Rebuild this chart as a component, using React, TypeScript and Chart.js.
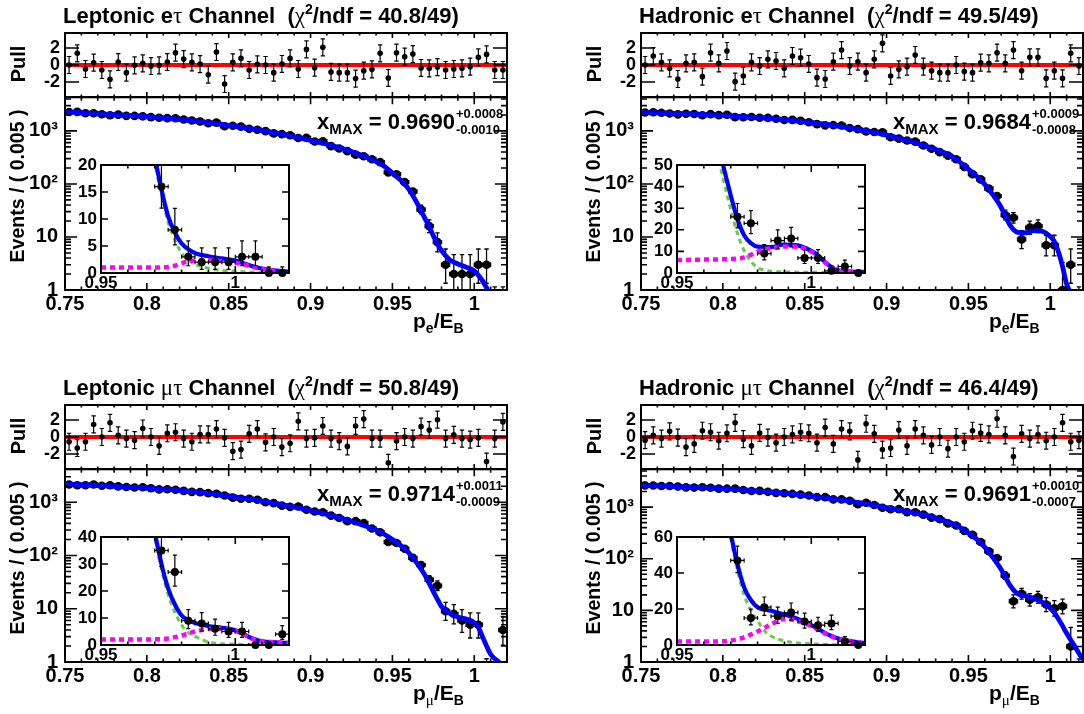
import React, { useEffect, useRef } from "react";
import { Chart, registerables } from "chart.js";

Chart.register(...registerables);

const FONT = '"Liberation Sans", Arial, Helvetica, sans-serif';
const GREEK = '"Liberation Serif", "DejaVu Serif", "Times New Roman", serif';
const BLUE = "#0000ff";
const RED = "#ff0000";
const MAGENTA = "#ff00ff";
const GREEN = "#66cc44";

// ---------- x grids ----------
const BIN_CENTERS = [
  0.7525, 0.7575, 0.7625, 0.7675, 0.7725, 0.7775, 0.7825, 0.7875, 0.7925, 0.7975,
  0.8025, 0.8075, 0.8125, 0.8175, 0.8225, 0.8275, 0.8325, 0.8375, 0.8425, 0.8475,
  0.8525, 0.8575, 0.8625, 0.8675, 0.8725, 0.8775, 0.8825, 0.8875, 0.8925, 0.8975,
  0.9025, 0.9075, 0.9125, 0.9175, 0.9225, 0.9275, 0.9325, 0.9375, 0.9425, 0.9475,
  0.9525, 0.9575, 0.9625, 0.9675, 0.9725, 0.9775, 0.9825, 0.9875, 0.9925, 0.9975,
  1.0025, 1.0075, 1.0125, 1.0175,
];
const FIT_X = [
  0.75, 0.76, 0.77, 0.78, 0.79, 0.8, 0.81, 0.82, 0.83, 0.84,
  0.85, 0.86, 0.87, 0.88, 0.89, 0.9, 0.91, 0.92, 0.93, 0.94,
  0.945, 0.95, 0.955, 0.96, 0.965, 0.97, 0.9725, 0.975, 0.9775, 0.98,
  0.985, 0.99, 0.995, 1.0, 1.0025, 1.005, 1.0075, 1.01, 1.015, 1.02,
];
const COMP_X = [
  0.95, 0.955, 0.96, 0.965, 0.97, 0.9725, 0.975, 0.9775, 0.98, 0.9825,
  0.985, 0.99, 0.995, 1.0, 1.0025, 1.005, 1.0075, 1.01, 1.015, 1.02,
];
const MAIN_X_TICKS = [0.75, 0.8, 0.85, 0.9, 0.95, 1.0];
const INSET_X_TICKS = [0.95, 1.0];
const PULL_TICKS = [-2, 0, 2];
const LOG_TICKS = [1, 10, 100, 1000];
const LOG_LABELS: Record<number, string> = { 1: "1", 10: "10", 100: "10\u00b2", 1000: "10\u00b3" };

// ---------- Leptonic e tau ----------
const LEP_ETAU_COUNTS = [
  2268, 2286, 2156, 2145, 2061, 1974, 2024, 1923, 1916, 1882,
  1820, 1773, 1739, 1730, 1645, 1572, 1503, 1393, 1430, 1226,
  1253, 1205, 1094, 1054, 989, 899, 869, 827, 734, 740,
  631, 636, 516, 465, 416, 357, 332, 292, 258, 165,
  152, 108, 72, 33, 16, 8, 3, 2, 2, 2,
  3, 3, 0, 0,
];
const LEP_ETAU_PULLS = [
  0.0, 1.37, -0.47, 0.27, -0.59, -1.69, 0.35, -0.9, -0.04, 0.2,
  -0.12, -0.04, 0.35, 1.45, 0.7, 0.31, 0.1, -1.14, 1.53, -2.24,
  0.31, 0.78, -0.59, 0.08, 0.0, -0.9, 0.12, 0.78, -0.47, 1.84,
  -0.31, 2.08, -0.82, -0.9, -0.9, -1.6, -0.67, -0.51, 1.37, -1.53,
  1.45, 0.98, 1.29, -0.35, -0.39, -0.24, -0.59, -0.47, -0.39, -0.2,
  0.9, 1.25, -0.59, -0.59,
];
const LEP_ETAU_FIT = [
  2290, 2200, 2110, 2030, 1940, 1850, 1750, 1645, 1530, 1405,
  1275, 1145, 1020, 895, 775, 665, 560, 460, 360, 265,
  215, 160, 118, 80, 44, 22, 15.5, 10.5, 7.5, 5.5,
  3.7, 3.1, 2.7, 2.3, 1.9, 1.5, 1.1, 0.8, 0.45, 0.25,
];
const LEP_ETAU_SIG = [1.0, 1.0, 1.0, 1.0, 1.0, 1.05, 1.1, 1.35, 1.8, 2.15, 2.3, 2.35, 2.2, 1.9, 1.65, 1.35, 1.0, 0.7, 0.35, 0.2];
const LEP_ETAU_BKG = [159, 117, 79, 43, 21, 14.5, 9.4, 6.1, 3.7, 2.4, 1.6, 0.9, 0.5, 0.35, 0.25, 0.18, 0.12, 0.08, 0.04, 0.02];

// ---------- Hadronic e tau ----------
const HAD_ETAU_COUNTS = [
  2224, 2251, 2192, 2135, 2050, 2108, 2084, 1978, 2074, 1985,
  2014, 1818, 1808, 1834, 1771, 1757, 1698, 1610, 1613, 1548,
  1460, 1340, 1273, 1282, 1262, 1130, 1079, 971, 951, 939,
  760, 715, 658, 627, 530, 460, 398, 342, 292, 210,
  153, 122, 82, 59, 26, 23, 9, 15, 16, 7,
  7, 1, 3, 0,
];
const HAD_ETAU_PULLS = [
  0, 1.06, 0.31, -0.39, -1.65, 0.2, 0.31, -1.37, 1.45, 0.2,
  1.65, -1.96, -1.29, 0.31, -0.12, 0.67, 0.47, -0.39, 1.06, 0.86,
  0.12, -1.49, -1.65, 0.39, 1.76, -0.12, 0.39, -0.9, 0.67, 2.55,
  -1.29, -0.51, -0.2, 1.18, -0.2, -0.67, -0.9, -0.9, 0, -0.78,
  -0.9, 0.27, 0.2, 1.45, 0.2, 1.76, -0.67, 0.9, 0.9, -1.57,
  -0.67, -1.57, 1.37, -0.12,
];
const HAD_ETAU_FIT = [
  2235, 2190, 2140, 2085, 2025, 1960, 1885, 1800, 1705, 1600,
  1485, 1365, 1235, 1100, 965, 830, 695, 565, 445, 330,
  255, 190, 140, 98, 62, 36, 25, 17.5, 13.8, 12.2,
  12.0, 13.2, 12.8, 10.2, 8.2, 5.2, 2.8, 1.3, 0.7, 0.5,
];
const HAD_ETAU_SIG = [6.0, 6.1, 6.2, 6.3, 6.5, 6.7, 7.2, 8.4, 9.8, 11.0, 11.4, 12.3, 12.1, 9.8, 7.8, 5.0, 2.6, 1.1, 0.5, 0.3];
const HAD_ETAU_BKG = [184, 134, 92, 56, 29.5, 18.3, 10.3, 5.4, 2.4, 1.4, 0.8, 0.5, 0.4, 0.35, 0.3, 0.25, 0.2, 0.2, 0.2, 0.2];

// ---------- Leptonic mu tau ----------
const LEP_MUTAU_COUNTS = [
  2157, 2088, 2087, 2145, 2043, 2083, 1981, 1930, 1887, 1911,
  1828, 1739, 1756, 1716, 1635, 1566, 1545, 1481, 1445, 1339,
  1218, 1162, 1161, 1114, 1000, 960, 864, 819, 832, 723,
  670, 650, 560, 504, 441, 442, 408, 320, 272, 179,
  172, 134, 90, 66, 35, 27, 9, 8, 6, 5,
  5, 0, 0, 4,
];
const LEP_MUTAU_PULLS = [
  -0.56, -1.3, -0.56, 1.48, 0, 1.67, 0.19, -0.19, -0.37, 1.0,
  0, -1.04, 0.44, 0.56, -0.19, -0.56, 0.3, 0.3, 0.93, -0.11,
  -1.67, -1.48, 0.37, 0.93, -0.63, 0, -1.19, -0.74, 1.85, -0.19,
  -0.11, 1.3, -0.19, -0.48, -1.11, 1.3, 2.11, -0.19, -0.19, -3.04,
  -0.48, 0, -0.19, 1.22, 0.81, 2.04, -0.19, 0.26, -0.19, -0.3,
  -0.11, -2.89, -0.19, 1.78,
];
const LEP_MUTAU_FIT = [
  2200, 2130, 2060, 1990, 1920, 1850, 1760, 1670, 1560, 1440,
  1310, 1180, 1050, 930, 810, 700, 590, 490, 390, 300,
  250, 200, 155, 112, 72, 42, 30, 21, 15, 11,
  8.2, 7.0, 6.4, 5.5, 4.5, 3.0, 2.0, 1.4, 1.0, 0.75,
];
const LEP_MUTAU_SIG = [2.0, 2.0, 2.0, 2.05, 2.1, 2.2, 2.4, 2.9, 3.5, 4.3, 5.0, 5.9, 6.0, 5.2, 4.3, 2.9, 1.9, 1.35, 0.95, 0.72];
const LEP_MUTAU_BKG = [198, 153, 110, 70, 40, 28, 18.6, 12.1, 7.5, 4.5, 3.2, 1.1, 0.45, 0.3, 0.2, 0.1, 0.1, 0.05, 0.05, 0.03];

// ---------- Hadronic mu tau ----------
const HAD_MUTAU_COUNTS = [
  2616, 2615, 2563, 2572, 2499, 2409, 2390, 2426, 2375, 2282,
  2276, 2283, 2141, 2050, 2062, 1977, 1889, 1853, 1801, 1746,
  1673, 1558, 1558, 1414, 1409, 1329, 1139, 1214, 1101, 969,
  910, 914, 800, 796, 715, 626, 585, 484, 440, 347,
  290, 211, 140, 103, 47, 15, 21, 16, 18, 13,
  11, 12, 2, 0,
];
const HAD_MUTAU_PULLS = [
  -0.37, 0.19, -0.19, 0.67, -0.07, -1.19, -0.81, 0.74, 0.56, -0.44,
  0.44, 1.67, -0.26, -1.04, 0.48, -0.07, -0.67, 0, 0.3, 0.56,
  0.44, -0.67, 1.11, -0.81, 0.93, 0.67, -2.7, 1.56, 0.37, -1.48,
  -1.3, 0.81, -1.04, 0.93, 0.19, -0.93, 0, -1.37, 0, -0.56,
  0.74, 0.48, 0.3, 2.15, 0.19, -2.3, 0.37, -0.19, 0.3, -0.44,
  0, 1.67, -0.56, -0.37,
];
const HAD_MUTAU_FIT = [
  2650, 2590, 2520, 2450, 2370, 2280, 2180, 2070, 1950, 1820,
  1690, 1550, 1410, 1270, 1125, 980, 860, 740, 620, 480,
  400, 315, 240, 168, 105, 62, 45, 32, 25, 21,
  19, 17, 14.5, 11, 9, 6.8, 5, 3.6, 2.0, 1.1,
];
const HAD_MUTAU_SIG = [1.9, 1.9, 1.95, 2.0, 2.5, 3.2, 4.2, 5.8, 7.5, 9.5, 11.5, 14.5, 13.4, 10.5, 8.5, 6.5, 4.8, 3.5, 2.0, 1.0];
const HAD_MUTAU_BKG = [313, 238, 166, 103, 59.5, 41.8, 27.8, 19.2, 13.5, 8.0, 5.0, 2.3, 1.1, 0.6, 0.5, 0.3, 0.2, 0.1, 0.05, 0.05];

type PanelDef = {
  col: number;
  row: number;
  counts: number[];
  pulls: number[];
  fit: number[];
  sig: number[];
  bkg: number[];
  yMax: number;
  insetMax: number;
  insetTicks: number[];
  mode: string;
  lep: string;
  chi: string;
  xmax: string;
  up: string;
  dn: string;
};

const PANELS: PanelDef[] = [
  { col: 0, row: 0, counts: LEP_ETAU_COUNTS, pulls: LEP_ETAU_PULLS, fit: LEP_ETAU_FIT, sig: LEP_ETAU_SIG, bkg: LEP_ETAU_BKG,
    yMax: 4300, insetMax: 20, insetTicks: [0, 5, 10, 15, 20], mode: "Leptonic", lep: "e", chi: "40.8/49", xmax: "0.9690", up: "+0.0008", dn: "-0.0010" },
  { col: 1, row: 0, counts: HAD_ETAU_COUNTS, pulls: HAD_ETAU_PULLS, fit: HAD_ETAU_FIT, sig: HAD_ETAU_SIG, bkg: HAD_ETAU_BKG,
    yMax: 4300, insetMax: 50, insetTicks: [0, 10, 20, 30, 40, 50], mode: "Hadronic", lep: "e", chi: "49.5/49", xmax: "0.9684", up: "+0.0009", dn: "-0.0008" },
  { col: 0, row: 1, counts: LEP_MUTAU_COUNTS, pulls: LEP_MUTAU_PULLS, fit: LEP_MUTAU_FIT, sig: LEP_MUTAU_SIG, bkg: LEP_MUTAU_BKG,
    yMax: 4150, insetMax: 40, insetTicks: [0, 10, 20, 30, 40], mode: "Leptonic", lep: "mu", chi: "50.8/49", xmax: "0.9714", up: "+0.0011", dn: "-0.0009" },
  { col: 1, row: 1, counts: HAD_MUTAU_COUNTS, pulls: HAD_MUTAU_PULLS, fit: HAD_MUTAU_FIT, sig: HAD_MUTAU_SIG, bkg: HAD_MUTAU_BKG,
    yMax: 5400, insetMax: 60, insetTicks: [0, 20, 40, 60], mode: "Hadronic", lep: "mu", chi: "46.4/49", xmax: "0.9691", up: "+0.0010", dn: "-0.0007" },
];

// ---------- layout ----------
const COL_DX = 576;
const ROW_DY = 372;
const FRAME_L = 65, FRAME_R = 507;
const PULL_T = 33, PULL_B = 97;
const MAIN_T = 97, MAIN_B = 290;
const INSET_L = 101, INSET_R = 289, INSET_T = 165, INSET_B = 273;

// ---------- helpers ----------
function poissonBand(n: number): [number, number] {
  if (n <= 0) return [0, 1.15];
  return [n - Math.sqrt(n - 0.25), n + Math.sqrt(n + 0.75) + 1];
}

function logMinor(yMax: number) {
  const r: number[] = [];
  for (let d = 1; d <= 1000; d *= 10) for (let k = 2; k <= 9; k++) if (k * d < yMax) r.push(k * d);
  return r;
}
function hundredths(from: number, to: number, skipEvery: number) {
  const r: number[] = [];
  for (let i = from; i <= to; i++) if (i % skipEvery !== 0) r.push(i / 100);
  return r;
}

const fontSpec = (size: number) => ({ family: FONT, size, weight: "bold" as const, lineHeight: 1.2 });

function fixed(size: number, horizontal: boolean) {
  return (s: any) => {
    if (horizontal) s.height = size;
    else s.width = size;
    s.paddingTop = 0;
    s.paddingBottom = 0;
    s.paddingLeft = 0;
    s.paddingRight = 0;
  };
}
const setTicks = (vals: number[]) => (s: any) => {
  s.ticks = vals.map((v) => ({ value: v }));
};

const errorBarPlugin = {
  id: "rootErrorBars",
  afterDatasetDraw(chart: any, args: any) {
    const ds = chart.data.datasets[args.index];
    const bars = ds && ds.errBars;
    if (!bars) return;
    const { ctx, chartArea: a } = chart;
    const xs = chart.scales.x;
    const ys = chart.scales.y;
    const isLog = ys.type === "logarithmic";
    const cap = ds.errCap ?? 2;
    const clampV = (v: number) => (isLog ? Math.max(v, ys.min * 0.01) : v);
    ctx.save();
    ctx.beginPath();
    ctx.rect(a.left, a.top, a.right - a.left, a.bottom - a.top);
    ctx.clip();
    ctx.strokeStyle = "#000";
    ctx.lineWidth = ds.errWidth ?? 1;
    ctx.beginPath();
    for (const b of bars) {
      const px = xs.getPixelForValue(b.x);
      const yl = ys.getPixelForValue(clampV(b.lo));
      const yh = ys.getPixelForValue(clampV(b.hi));
      ctx.moveTo(px, yl);
      ctx.lineTo(px, yh);
      ctx.moveTo(px - cap, yh);
      ctx.lineTo(px + cap, yh);
      ctx.moveTo(px - cap, yl);
      ctx.lineTo(px + cap, yl);
      if (b.dx) {
        const py = ys.getPixelForValue(clampV(b.y));
        const xl = xs.getPixelForValue(b.x - b.dx);
        const xr = xs.getPixelForValue(b.x + b.dx);
        ctx.moveTo(xl, py);
        ctx.lineTo(xr, py);
        ctx.moveTo(xl, py - cap);
        ctx.lineTo(xl, py + cap);
        ctx.moveTo(xr, py - cap);
        ctx.lineTo(xr, py + cap);
      }
    }
    ctx.stroke();
    ctx.restore();
  },
};
Chart.register(errorBarPlugin);

type FrameSpec = {
  xMajor: number[]; xMinor: number[]; yMajor: number[]; yMinor: number[];
  xMajorLen: number; xMinorLen: number; yMajorLen: number; yMinorLen: number;
};

function framePlugin(spec: FrameSpec) {
  return {
    id: "rootFrame",
    afterDraw(chart: any) {
      const { ctx, chartArea: a } = chart;
      const xs = chart.scales.x;
      const ys = chart.scales.y;
      ctx.save();
      ctx.strokeStyle = "#000";
      ctx.lineWidth = 1.6;
      ctx.beginPath();
      const xt = (vals: number[], len: number) => {
        for (const v of vals) {
          const p = xs.getPixelForValue(v);
          if (p < a.left + 1 || p > a.right - 1) continue;
          ctx.moveTo(p, a.bottom);
          ctx.lineTo(p, a.bottom - len);
          ctx.moveTo(p, a.top);
          ctx.lineTo(p, a.top + len);
        }
      };
      const yt = (vals: number[], len: number) => {
        for (const v of vals) {
          const p = ys.getPixelForValue(v);
          if (p < a.top + 1 || p > a.bottom - 1) continue;
          ctx.moveTo(a.left, p);
          ctx.lineTo(a.left + len, p);
          ctx.moveTo(a.right, p);
          ctx.lineTo(a.right - len, p);
        }
      };
      xt(spec.xMajor, spec.xMajorLen);
      xt(spec.xMinor, spec.xMinorLen);
      yt(spec.yMajor, spec.yMajorLen);
      yt(spec.yMinor, spec.yMinorLen);
      ctx.stroke();
      ctx.lineWidth = 2;
      ctx.strokeRect(a.left, a.top, a.right - a.left, a.bottom - a.top);
      ctx.restore();
    },
  };
}

const baseOptions = {
  responsive: false,
  animation: false,
  devicePixelRatio: 1,
  events: [] as string[],
  plugins: { legend: { display: false }, tooltip: { enabled: false } },
};

function curve(xs: number[], ys: number[]) {
  return xs.map((x, i) => ({ x, y: ys[i] }));
}

// ---------- chart configs ----------
function mainConfig(p: PanelDef) {
  const dataPts = BIN_CENTERS.map((x, i) => ({ x, y: p.counts[i] > 0 ? p.counts[i] : null }));
  const errs = BIN_CENTERS.map((x, i) => {
    const [lo, hi] = poissonBand(p.counts[i]);
    return { x, y: p.counts[i], lo, hi, dx: 0.0025 };
  });
  return {
    type: "scatter",
    data: {
      datasets: [
        { data: curve(FIT_X, p.fit), showLine: true, fill: false, borderColor: BLUE, borderWidth: 4.8, pointRadius: 0,
          cubicInterpolationMode: "monotone", order: 0, clip: 0 },
        { data: dataPts, pointRadius: 4.3, pointHoverRadius: 4.3, backgroundColor: "#000", pointBackgroundColor: "#000",
          pointBorderWidth: 0, borderWidth: 0, order: 1, errBars: errs, errCap: 2.2, errWidth: 1.3 },
      ],
    },
    options: {
      ...baseOptions,
      layout: { padding: { left: 0, right: 6, top: 4, bottom: 0 } },
      scales: {
        x: {
          type: "linear", min: 0.75, max: 1.02,
          grid: { display: false, drawTicks: false }, border: { display: false },
          afterBuildTicks: setTicks(MAIN_X_TICKS),
          ticks: { autoSkip: false, maxRotation: 0, minRotation: 0, padding: 2, color: "#000", font: fontSpec(20),
            callback: (v: number) => String(Number(Number(v).toFixed(2))) },
          afterFit: fixed(36, true),
        },
        y: {
          type: "logarithmic", min: 1, max: p.yMax,
          grid: { display: false, drawTicks: false }, border: { display: false },
          afterBuildTicks: setTicks(LOG_TICKS),
          ticks: { autoSkip: false, padding: 7, color: "#000", font: fontSpec(20),
            callback: (v: number) => LOG_LABELS[Math.round(Number(v))] ?? "" },
          afterFit: fixed(60, false),
        },
      },
    },
    plugins: [framePlugin({
      xMajor: MAIN_X_TICKS, xMinor: hundredths(76, 102, 5), yMajor: LOG_TICKS, yMinor: logMinor(p.yMax),
      xMajorLen: 7, xMinorLen: 3.5, yMajorLen: 12, yMinorLen: 6,
    })],
  };
}

function pullConfig(p: PanelDef) {
  const pts = BIN_CENTERS.map((x, i) => ({ x, y: p.pulls[i] }));
  const errs = BIN_CENTERS.map((x, i) => ({ x, y: p.pulls[i], lo: p.pulls[i] - 1, hi: p.pulls[i] + 1, dx: 0 }));
  return {
    type: "scatter",
    data: {
      datasets: [
        { data: pts, pointRadius: 2.8, pointHoverRadius: 2.8, backgroundColor: "#000", pointBackgroundColor: "#000",
          pointBorderWidth: 0, borderWidth: 0, order: 0, errBars: errs, errCap: 2.2, errWidth: 1.2 },
        { data: [{ x: 0.75, y: 0 }, { x: 1.02, y: 0 }], showLine: true, fill: false, borderColor: RED, borderWidth: 3.8,
          pointRadius: 0, order: 1, clip: 0 },
      ],
    },
    options: {
      ...baseOptions,
      layout: { padding: { left: 0, right: 6, top: 4, bottom: 4 } },
      scales: {
        x: { type: "linear", min: 0.75, max: 1.02, display: false },
        y: {
          type: "linear", min: -3.77, max: 3.77,
          grid: { display: false, drawTicks: false }, border: { display: false },
          afterBuildTicks: setTicks(PULL_TICKS),
          ticks: { autoSkip: false, padding: 5, color: "#000", font: fontSpec(18), callback: (v: number) => String(v) },
          afterFit: fixed(60, false),
        },
      },
    },
    plugins: [framePlugin({
      xMajor: MAIN_X_TICKS, xMinor: hundredths(76, 102, 5), yMajor: PULL_TICKS, yMinor: [],
      xMajorLen: 5, xMinorLen: 2.5, yMajorLen: 14, yMinorLen: 0,
    })],
  };
}

function insetConfig(p: PanelDef) {
  const pts = BIN_CENTERS.map((x, i) => ({ x, y: p.counts[i] }));
  const errs = BIN_CENTERS.map((x, i) => {
    const [lo, hi] = poissonBand(p.counts[i]);
    return { x, y: p.counts[i], lo, hi, dx: 0.0025 };
  });
  return {
    type: "scatter",
    data: {
      datasets: [
        { data: pts, pointRadius: 4, pointHoverRadius: 4, backgroundColor: "#000", pointBackgroundColor: "#000",
          pointBorderWidth: 0, borderWidth: 0, order: 0, errBars: errs, errCap: 2, errWidth: 1.2,
          clip: { left: 0, right: 0, top: 0, bottom: 5 } },
        { data: curve(COMP_X, p.sig), showLine: true, fill: false, borderColor: MAGENTA, borderWidth: 4.5, borderDash: [5, 4],
          pointRadius: 0, cubicInterpolationMode: "monotone", order: 1, clip: 0 },
        { data: curve(FIT_X, p.fit), showLine: true, fill: false, borderColor: BLUE, borderWidth: 4.2, pointRadius: 0,
          cubicInterpolationMode: "monotone", order: 2, clip: 0 },
        { data: curve(COMP_X, p.bkg), showLine: true, fill: false, borderColor: GREEN, borderWidth: 3, borderDash: [5, 4],
          pointRadius: 0, cubicInterpolationMode: "monotone", order: 3, clip: 0 },
      ],
    },
    options: {
      ...baseOptions,
      layout: { padding: { left: 0, right: 6, top: 12, bottom: 0 } },
      scales: {
        x: {
          type: "linear", min: 0.95, max: 1.02,
          grid: { display: false, drawTicks: false }, border: { display: false },
          afterBuildTicks: setTicks(INSET_X_TICKS),
          ticks: { autoSkip: false, maxRotation: 0, minRotation: 0, padding: 0, color: "#000", font: fontSpec(17),
            callback: (v: number) => String(Number(Number(v).toFixed(2))) },
          afterFit: fixed(24, true),
        },
        y: {
          type: "linear", min: 0, max: p.insetMax,
          grid: { display: false, drawTicks: false }, border: { display: false },
          afterBuildTicks: setTicks(p.insetTicks),
          ticks: { autoSkip: false, padding: 4, color: "#000", font: fontSpec(17), callback: (v: number) => String(v) },
          afterFit: fixed(40, false),
        },
      },
    },
    plugins: [framePlugin({
      xMajor: INSET_X_TICKS, xMinor: [0.96, 0.97, 0.98, 0.99, 1.01], yMajor: p.insetTicks, yMinor: [],
      xMajorLen: 7, xMinorLen: 3.5, yMajorLen: 7, yMinorLen: 0,
    })],
  };
}

// ---------- components ----------
type Box = { left: number; top: number; width: number; height: number };

function ChartBox({ box, build }: { box: Box; build: () => any }) {
  const ref = useRef<HTMLCanvasElement | null>(null);
  useEffect(() => {
    if (!ref.current) return;
    const chart = new Chart(ref.current, build());
    return () => chart.destroy();
  }, []);
  return (
    <canvas
      ref={ref}
      width={box.width}
      height={box.height}
      style={{ position: "absolute", left: box.left, top: box.top, width: box.width, height: box.height }}
    />
  );
}

const txt: React.CSSProperties = {
  position: "absolute",
  fontFamily: FONT,
  fontWeight: "bold",
  color: "#000",
  whiteSpace: "pre",
  lineHeight: 1,
};
const topFor = (baseline: number, size: number) => baseline - 0.8465 * size;

function G({ children, size }: { children: React.ReactNode; size?: number }) {
  return <span style={{ fontFamily: GREEK, fontWeight: "normal", fontSize: size }}>{children}</span>;
}

function Panel({ p }: { p: PanelDef }) {
  const dx = p.col * COL_DX;
  const dy = p.row * ROW_DY;
  const L = FRAME_L + dx, R = FRAME_R + dx;
  const W = R - L;
  const mainBox = { left: L - 60, top: MAIN_T + dy - 4, width: W + 66, height: MAIN_B - MAIN_T + 4 + 36 };
  const pullBox = { left: L - 60, top: PULL_T + dy - 4, width: W + 66, height: PULL_B - PULL_T + 8 };
  const IL = INSET_L + dx, IR = INSET_R + dx;
  const insetBox = { left: IL - 40, top: INSET_T + dy - 12, width: IR - IL + 46, height: INSET_B - INSET_T + 12 + 24 };
  const isMu = p.lep === "mu";
  return (
    <>
      <ChartBox box={mainBox} build={() => mainConfig(p)} />
      <ChartBox box={pullBox} build={() => pullConfig(p)} />
      <ChartBox box={insetBox} build={() => insetConfig(p)} />

      <div style={{ ...txt, left: L - 2, top: topFor(23 + dy, 22), fontSize: 22 }}>
        {p.mode + " "}
        {isMu ? <G size={23}>{"\u03bc"}</G> : "e"}
        <G size={23}>{"\u03c4"}</G>
        {" Channel  ("}
        <G size={23}>{"\u03c7"}</G>
        <span style={{ fontSize: 14, position: "relative", top: -9 }}>2</span>
        {"/ndf = " + p.chi + ")"}
      </div>

      <div style={{ ...txt, left: 17.5 + dx, top: 64 + dy, fontSize: 20, transform: "translate(-50%, -50%) rotate(-90deg)" }}>
        Pull
      </div>
      <div style={{ ...txt, left: 17.5 + dx, top: 186 + dy, fontSize: 19.5, transform: "translate(-50%, -50%) rotate(-90deg)" }}>
        {"Events / ( 0.005 )"}
      </div>

      <div style={{ ...txt, left: 317 + dx, top: topFor(130 + dy, 22), fontSize: 22 }}>
        x<span style={{ fontSize: 15, position: "relative", top: 5 }}>MAX</span>
        {" = " + p.xmax}
        <span style={{ position: "relative", display: "inline-block", width: 1, height: 0 }}>
          <span style={{ ...txt, left: 1, top: topFor(-11, 13), fontSize: 13 }}>{p.up}</span>
          <span style={{ ...txt, left: 1, top: topFor(5, 13), fontSize: 13 }}>{p.dn}</span>
        </span>
      </div>

      <div style={{ ...txt, left: 413 + dx, top: topFor(328 + dy, 21), fontSize: 21 }}>
        p
        <span style={{ fontSize: 14, position: "relative", top: 5 }}>{isMu ? <G size={15}>{"\u03bc"}</G> : "e"}</span>
        /E
        <span style={{ fontSize: 14, position: "relative", top: 5 }}>B</span>
      </div>
    </>
  );
}

export default function App() {
  return (
    <div
      style={{
        position: "fixed",
        left: 0,
        top: 0,
        width: 1084,
        height: 714,
        background: "#fff",
        overflow: "hidden",
      }}
    >
      {PANELS.map((p, i) => (
        <Panel key={i} p={p} />
      ))}
    </div>
  );
}
